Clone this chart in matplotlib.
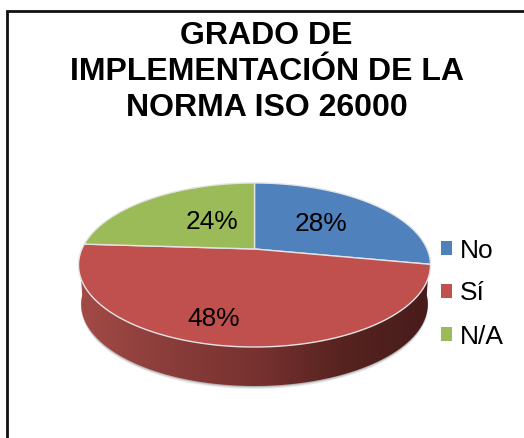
import numpy as np
import matplotlib
matplotlib.use("Agg")
import matplotlib.pyplot as plt
from matplotlib.patches import Polygon, Patch
from matplotlib.colors import LinearSegmentedColormap

plt.rcParams['font.family'] = ['Liberation Sans', 'DejaVu Sans']

title = "GRADO DE\nIMPLEMENTACIÓN DE LA\nNORMA ISO 26000"
categories = ["No", "Sí", "N/A"]
values = [28, 48, 24]
colors = ["#4F81BD", "#C0504D", "#9BBB59"]
label_xy = [(321, 224), (214, 319), (212, 222)]

W, H = 524, 438
fig = plt.figure(figsize=(W / 100, H / 100), dpi=100)
ax = fig.add_axes([0, 0, 1, 1])
ax.axis("off")

# Tilted-disc projection of the unit circle (pixel coordinates)
CX, CY, A, B, K = 254.5, 249.0, 172.6, 78.9, 0.195

def project(theta_deg, dy=0.0, sx=1.0):
    t = np.radians(theta_deg)
    u, v = np.sin(t), np.cos(t)
    d = 1 + K * v
    return np.column_stack([CX + sx * A * u / d, CY - B * v / d + dy])

# Soft shadow below the wall
for off, a in [(3.0, 0.07), (2.0, 0.10), (1.0, 0.14)]:
    th = np.linspace(80, 280, 200)
    ax.add_patch(Polygon(project(th, dy=39 + off, sx=0.985), closed=True,
                         fc="#000000", ec="none", alpha=a, zorder=1))

# Wall with horizontal gradient
th_top = np.linspace(95, 265, 200)
wall = np.vstack([project(th_top), project(th_top[::-1], dy=39, sx=0.985)])
cmap = LinearSegmentedColormap.from_list("wall", [
    (0.0, "#A34A46"), (0.25, "#8A3D3A"), (0.5, "#773230"),
    (0.75, "#572320"), (1.0, "#471C1B")])
grad = np.linspace(0, 1, 256).reshape(1, -1)
im = ax.imshow(grad, extent=(80, 430, 400, 250), cmap=cmap, aspect="auto", zorder=2)
wall_patch = Polygon(wall, closed=True, fc="none", ec="none", zorder=2,
                     transform=ax.transData)
ax.add_patch(wall_patch)
im.set_clip_path(wall_patch)

# Top face slices, clockwise from the top
edges = np.concatenate([[0], np.cumsum(values)]) / sum(values) * 360
centre = np.array([[CX, CY]])
for start, end, c in zip(edges[:-1], edges[1:], colors):
    th = np.linspace(start, end, 200)
    ax.add_patch(Polygon(np.vstack([centre, project(th)]), closed=True,
                         fc=c, ec="#E4E4E4", lw=1.0, joinstyle="round", zorder=3))

# Percentage labels
for (x, y), v in zip(label_xy, values):
    ax.text(x, y, f"{v}%", fontsize=18.9, color="black", ha="center", va="center", zorder=5)

# Title
ax.text(266.5, 72, title, fontsize=23, fontweight="bold", color="black",
        ha="center", va="center", linespacing=1.25, zorder=5)

# Frame: top and left only
ax.plot([7, 7, W], [H, 10.5, 10.5], color="#111111", lw=2.0, zorder=6,
        solid_joinstyle="miter", solid_capstyle="butt")

ax.set_xlim(0, W)
ax.set_ylim(H, 0)

handles = [Patch(fc=c, ec="none", label=n) for c, n in zip(colors, categories)]
ax.legend(handles=handles, loc="center left", bbox_to_anchor=(441 / W, 1 - 293.5 / H),
          frameon=False, fontsize=19, handlelength=0.42, handleheight=0.42,
          handletextpad=0.3, labelspacing=0.72, borderpad=0, borderaxespad=0)

fig.savefig("out.png", dpi=100)
